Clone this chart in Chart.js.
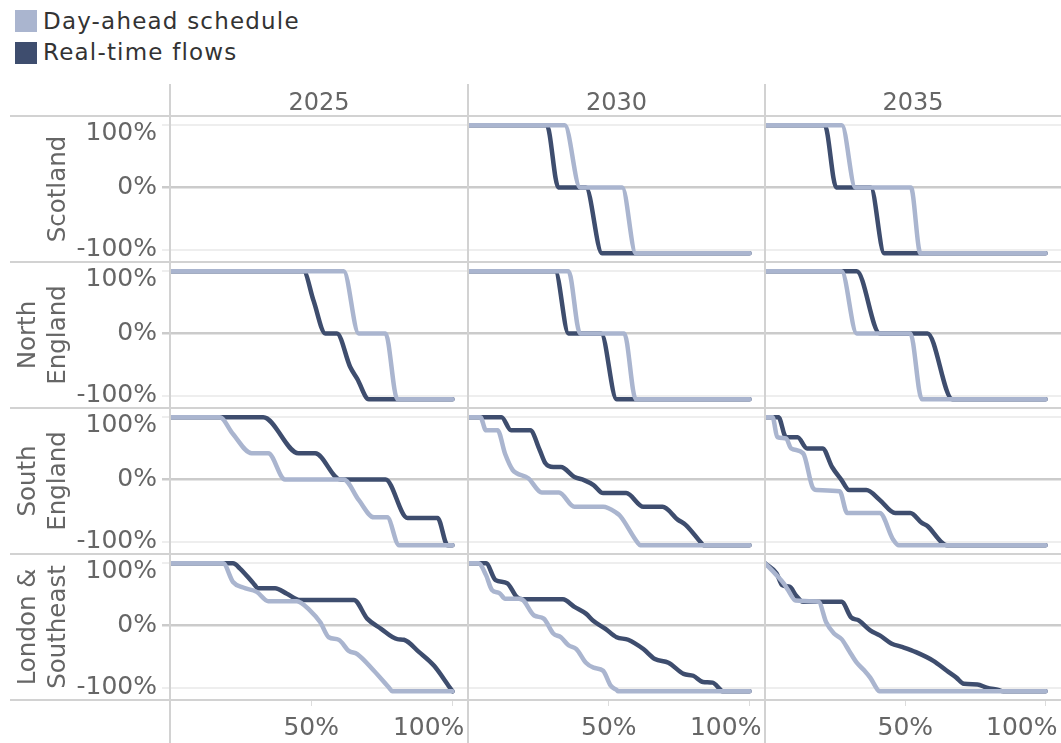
<!DOCTYPE html>
<html><head><meta charset="utf-8">
<script src="https://cdn.jsdelivr.net/npm/chart.js@4.4.1/dist/chart.umd.min.js"></script>
<style>
html,body{margin:0;padding:0;background:#fff;}
#root{position:relative;width:1061px;height:743px;overflow:hidden;font-family:'DejaVu Sans',Verdana,sans-serif;}
canvas{position:absolute;}
.sep{position:absolute;background:#d2d2d2;z-index:3;}
.txt{position:absolute;white-space:nowrap;z-index:4;}
</style></head>
<body><div id="root"></div>
<script>
// ---------- data ----------
const years = ['2025', '2030', '2035'];
const regions = [['Scotland'], ['North', 'England'], ['South', 'England'], ['London &', 'Southeast']];
const seriesNames = ['Day-ahead schedule', 'Real-time flows'];
const seriesColors = ['#aab5cf', '#3e4d6e'];
const yTickValues = [-100, 0, 100];
const xTickValues = [50, 100];

// [x %, flow %]
const scotland2025DayAhead = [];
const scotland2025RealTime = [];
const scotland2030DayAhead = [[0,100],[34.4,100],[39.8,0],[54.8,0],[59.6,-106],[100,-106]];
const scotland2030RealTime = [[0,100],[28.0,100],[32.1,0],[41.9,0],[47.6,-106],[100,-106]];
const scotland2035DayAhead = [[0,100],[27.4,100],[32.2,0],[52.0,0],[55.4,-106],[100,-106]];
const scotland2035RealTime = [[0,100],[21.3,100],[25.4,0],[37.7,0],[42.5,-106],[100,-106]];

const northEngland2025DayAhead = [[0,100],[61.5,100],[66.8,0],[76.3,0],[80.5,-106],[100,-106]];
const northEngland2025RealTime = [[0,100],[47.3,100],[50.8,53],[55.0,0],[59.1,0],[63.8,-54],[66.3,-73],[70.4,-106],[100,-106]];
const northEngland2030DayAhead = [[0,100],[35.7,100],[39.8,0],[55.5,0],[59.6,-106],[100,-106]];
const northEngland2030RealTime = [[0,100],[31.0,100],[35.7,0],[47.3,0],[52.8,-106],[100,-106]];
const northEngland2035DayAhead = [[0,100],[27.3,100],[32.7,0],[51.8,0],[55.9,-106],[100,-106]];
const northEngland2035RealTime = [[0,100],[32.7,100],[40.9,0],[57.9,0],[66.8,-106],[100,-106]];

const southEngland2025DayAhead = [[0,100],[17.6,100],[22.3,73],[28.9,42],[34.8,42],[40.7,0],[61.5,0],[66.8,-33],[72.2,-61],[76.9,-61],[81.1,-106],[100,-106]];
const southEngland2025RealTime = [[0,100],[33.0,100],[45.5,42],[51.4,42],[60.3,0],[76.3,0],[84.1,-62],[94.7,-62],[98.3,-106],[100,-106]];
const southEngland2030DayAhead = [[0,100],[4.4,100],[6.4,79],[10.5,79],[13.2,41],[15.9,15],[17.3,10],[21.4,2],[26.2,-21],[32.3,-21],[37.8,-44],[48.0,-44],[52.8,-54],[54.1,-59],[60.3,-102],[61.2,-106],[100,-106]];
const southEngland2030RealTime = [[0,100],[11.9,100],[15.3,79],[22.1,79],[25.5,47],[27.5,26],[30.3,20],[33.0,20],[37.8,4],[41.2,-1],[44.6,-9],[48.0,-22],[56.2,-22],[62.3,-44],[69.1,-44],[74.6,-65],[77.3,-73],[82.8,-102],[83.6,-106],[100,-106]];
const southEngland2035DayAhead = [[0,100],[2.7,100],[4.4,68],[7.5,66],[9.3,50],[13.6,42],[17.0,-13],[18.4,-17],[26.6,-19],[29.3,-54],[40.9,-54],[45.7,-97],[47.7,-106],[100,-106]];
const southEngland2035RealTime = [[0,100],[4.8,100],[7.5,68],[11.6,68],[15.0,50],[20.5,50],[23.9,20],[27.3,-1],[30.0,-17],[36.1,-17],[40.9,-33],[46.4,-54],[51.8,-54],[55.9,-70],[57.9,-75],[62.7,-100],[64.8,-106],[100,-106]];

const london2025DayAhead = [[0,100],[18.8,100],[22.3,70],[25.9,61],[30.7,54],[34.8,39],[44.9,39],[49.6,24],[53.2,5],[56.2,-19],[59.7,-23],[63.3,-41],[66.3,-46],[72.2,-73],[77.5,-100],[78.7,-106],[100,-106]];
const london2025RealTime = [[0,100],[22.3,100],[24.7,92],[29.5,68],[31.2,60],[37.2,60],[41.4,51],[46.1,41],[65.1,41],[69.8,11],[74.6,-5],[80.5,-22],[82.8,-23],[88.2,-43],[93.5,-65],[98.3,-95],[100,-106]];
const london2030DayAhead = [[0,100],[3.7,100],[6.4,81],[8.5,57],[11.2,52],[13.2,43],[18.7,43],[23.5,16],[26.9,11],[30.3,-13],[33.0,-19],[35.7,-32],[38.5,-38],[41.9,-60],[44.6,-68],[48.0,-73],[50.7,-97],[52.8,-104],[53.3,-106],[100,-106]];
const london2030RealTime = [[0,100],[6.4,100],[9.8,73],[13.9,68],[17.3,46],[19.4,42],[33.7,42],[37.8,30],[41.9,19],[44.6,7],[48.7,-5],[52.8,-19],[56.9,-23],[62.3,-38],[66.4,-54],[71.2,-60],[76.6,-78],[80.0,-81],[83.5,-91],[86.9,-92],[89.6,-103],[90.4,-106],[100,-106]];
const london2035DayAhead = [[0,100],[4.1,81],[6.8,67],[8.2,57],[10.9,40],[19.1,38],[21.8,5],[24.6,-13],[27.3,-22],[30.0,-41],[32.7,-60],[35.5,-73],[37.5,-84],[40.2,-104],[40.7,-106],[100,-106]];
const london2035RealTime = [[0,100],[4.1,84],[6.1,65],[8.9,62],[10.9,49],[13.6,38],[27.3,38],[30.7,13],[33.4,8],[37.5,-8],[40.9,-16],[45.0,-29],[49.1,-35],[53.8,-43],[60.0,-57],[64.8,-73],[68.2,-84],[70.9,-94],[75.7,-95],[79.0,-100],[83.2,-104],[84.9,-106],[100,-106]];

const panelSeries = [
  [[scotland2025DayAhead, scotland2025RealTime], [scotland2030DayAhead, scotland2030RealTime], [scotland2035DayAhead, scotland2035RealTime]],
  [[northEngland2025DayAhead, northEngland2025RealTime], [northEngland2030DayAhead, northEngland2030RealTime], [northEngland2035DayAhead, northEngland2035RealTime]],
  [[southEngland2025DayAhead, southEngland2025RealTime], [southEngland2030DayAhead, southEngland2030RealTime], [southEngland2035DayAhead, southEngland2035RealTime]],
  [[london2025DayAhead, london2025RealTime], [london2030DayAhead, london2030RealTime], [london2035DayAhead, london2035RealTime]]
];

// ---------- layout ----------
const FONT = "'DejaVu Sans', Verdana, sans-serif";
const colLeft = [170, 468, 765];
const colRight = [468, 765, 1061];
const rowTop = [116, 262, 408, 554];
const rowH = 146;
const yAxisW = 110, xAxisH = 43;

Chart.defaults.font.family = FONT;
Chart.defaults.font.size = 25;
Chart.defaults.color = '#666666';

const root = document.getElementById('root');
function addDiv(cls, css, text) {
  const d = document.createElement('div');
  d.className = cls; d.style.cssText = css;
  if (text !== undefined) d.textContent = text;
  root.appendChild(d); return d;
}

// legend
seriesNames.forEach((name, i) => {
  const top = 10 + i * 31.5;
  addDiv('txt', `left:15px;top:${top}px;width:22px;height:22px;background:${seriesColors[i]};`);
  addDiv('txt', `left:43px;top:${top - 0.5}px;font-size:23px;line-height:23px;letter-spacing:1.2px;color:#333;`, name);
});

// column headers
years.forEach((y, c) => {
  addDiv('txt', `left:${colLeft[c]}px;width:${colRight[c] - colLeft[c]}px;top:90px;text-align:center;font-size:24px;line-height:24px;color:#666;`, y);
});

// row headers (rotated)
regions.forEach((lines, r) => {
  const cy = rowTop[r] + rowH / 2, cx = 36.5;
  const d = addDiv('txt', `left:${cx - rowH / 2}px;top:${cy - 35}px;width:${rowH}px;height:70px;transform:rotate(-90deg);display:flex;flex-direction:column;justify-content:flex-end;align-items:center;font-size:24.5px;line-height:30px;color:#666;`);
  lines.forEach(t => { const s = document.createElement('div'); s.textContent = t; d.appendChild(s); });
});

function noPad(s) { s.paddingLeft = 0; s.paddingRight = 0; s.paddingTop = 0; s.paddingBottom = 0; }

// panels
for (let r = 0; r < 4; r++) {
  for (let c = 0; c < 3; c++) {
    const isFirst = c === 0, isBottom = r === 3;
    const w = colRight[c] - colLeft[c] + (isFirst ? yAxisW : 0);
    const h = rowH + (isBottom ? xAxisH : 0);
    const cv = document.createElement('canvas');
    cv.width = w; cv.height = h;
    cv.style.cssText = `left:${colLeft[c] - (isFirst ? yAxisW : 0)}px;top:${rowTop[r]}px;width:${w}px;height:${h}px;`;
    root.appendChild(cv);
    const datasets = panelSeries[r][c].map((pts, i) => ({
      label: seriesNames[i],
      data: pts.map(p => ({x: p[0], y: p[1]})),
      borderColor: seriesColors[i],
      backgroundColor: seriesColors[i],
      borderWidth: 4.5,
      pointRadius: 0,
      fill: false,
      cubicInterpolationMode: 'monotone',
      borderCapStyle: 'round',
      borderJoinStyle: 'round'
    }));
    new Chart(cv, {
      type: 'line',
      data: {datasets},
      options: {
        responsive: false, animation: false, devicePixelRatio: 1, events: [],
        layout: {padding: 0, autoPadding: false},
        plugins: {legend: {display: false}, tooltip: {enabled: false}},
        scales: {
          x: {
            type: 'linear', min: 0, max: 105.5, display: isBottom,
            afterFit: s => { s.height = isBottom ? xAxisH : 0; noPad(s); },
            afterBuildTicks: s => { s.ticks = xTickValues.map(v => ({value: v})); },
            border: {display: false},
            grid: {drawOnChartArea: false, drawTicks: true, tickLength: 6, color: '#dcdcdc', lineWidth: 1},
            ticks: {autoSkip: false, maxRotation: 0, minRotation: 0, padding: 7, color: '#666',
              font: {family: FONT, size: 25},
              callback: v => v === 100 ? v + '%      ' : v + '%'}
          },
          y: {
            type: 'linear', min: -120, max: 115, display: true,
            afterFit: s => { s.width = isFirst ? yAxisW : 0; noPad(s); },
            afterBuildTicks: s => { s.ticks = yTickValues.map(v => ({value: v})); },
            border: {display: false},
            grid: {
              color: ctx => (ctx.tick && ctx.tick.value === 0) ? '#cbcbcb' : '#eeeeee',
              lineWidth: ctx => (ctx.tick && ctx.tick.value === 0) ? 2.5 : 2,
              drawTicks: isFirst, tickLength: 8
            },
            ticks: {display: isFirst, padding: 5, color: '#666',
              font: ctx => ({family: FONT, size: 25, lineHeight: (ctx.tick && ctx.tick.value === 100) ? 0.64 : 1.2}),
              callback: v => v === 100 ? ['', v + '%'] : v + '%'}
          }
        }
      }
    });
  }
}

// separators
rowTop.concat([rowTop[3] + rowH]).forEach(y => addDiv('sep', `left:10px;top:${y - 1}px;width:1051px;height:2px;`));
colLeft.forEach(x => addDiv('sep', `left:${x - 1}px;top:84px;width:2px;height:659px;`));
</script>
</body></html>
